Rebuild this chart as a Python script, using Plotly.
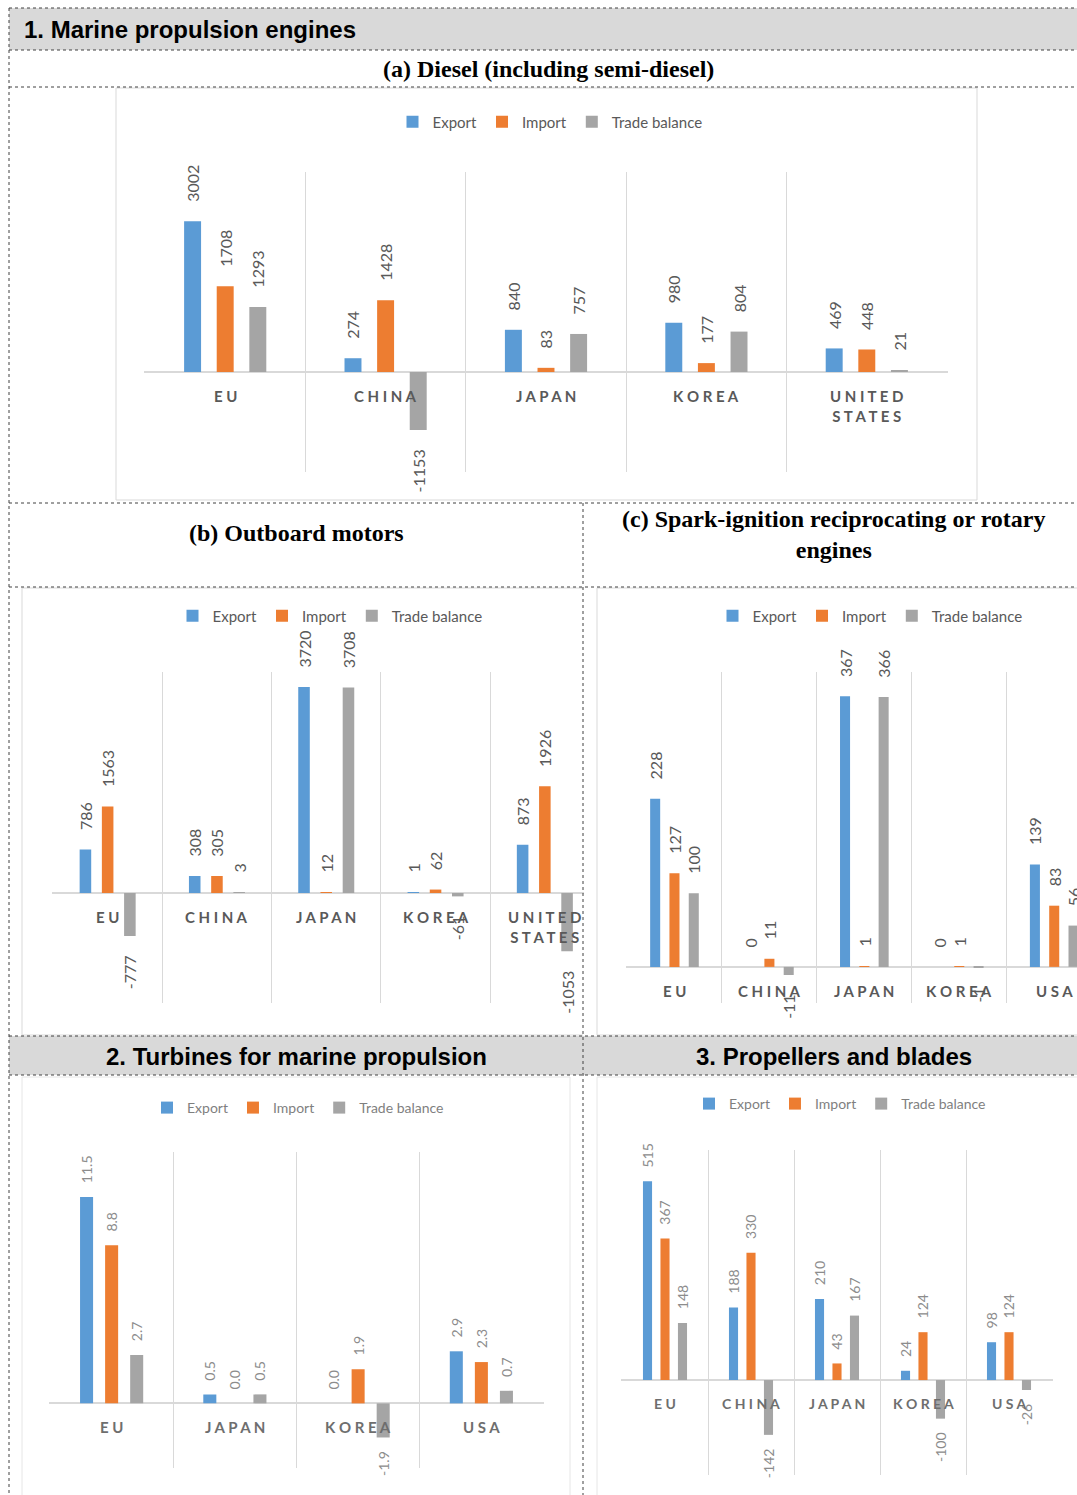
import plotly.graph_objects as go

W, H = 1077, 1495

EXPORT_COLOR = "#5B9BD5"
IMPORT_COLOR = "#ED7D31"
BALANCE_COLOR = "#A5A5A5"
SERIES_NAMES = ["Export", "Import", "Trade balance"]

# (a) Diesel (including semi-diesel)
diesel_cats = ["EU", "CHINA", "JAPAN", "KOREA", "UNITED STATES"]
diesel_export = [3002, 274, 840, 980, 469]
diesel_import = [1708, 1428, 83, 177, 448]
diesel_balance = [1293, -1153, 757, 804, 21]

# (b) Outboard motors
outboard_cats = ["EU", "CHINA", "JAPAN", "KOREA", "UNITED STATES"]
outboard_export = [786, 308, 3720, 1, 873]
outboard_import = [1563, 305, 12, 62, 1926]
outboard_balance = [-777, 3, 3708, -61, -1053]

# (c) Spark-ignition reciprocating or rotary engines
spark_cats = ["EU", "CHINA", "JAPAN", "KOREA", "USA"]
spark_export = [228, 0, 367, 0, 139]
spark_import = [127, 11, 1, 1, 83]
spark_balance = [100, -11, 366, -1, 56]

# 2. Turbines for marine propulsion
turbine_cats = ["EU", "JAPAN", "KOREA", "USA"]
turbine_export = [11.5, 0.5, 0.0, 2.9]
turbine_import = [8.8, 0.0, 1.9, 2.3]
turbine_balance = [2.7, 0.5, -1.9, 0.7]

# 3. Propellers and blades
prop_cats = ["EU", "CHINA", "JAPAN", "KOREA", "USA"]
prop_export = [515, 188, 210, 24, 98]
prop_import = [367, 330, 43, 124, 124]
prop_balance = [148, -142, 167, -100, -26]


def px(x):
    return x / W


def py(y):
    return 1 - y / H


def spaced(label):
    # letter-spaced category caption, one line per word for two-word names
    return "<br>".join(" ".join(word) for word in label.split(" "))


def bar_label(v, decimals, pad):
    s = f"{v:.{decimals}f}"
    gap = "\u00a0" * pad
    return s + gap if v < 0 else gap + s


# panel layout: first category boundary and category width in px, plot top/bottom in px
panels = [
    dict(cats=diesel_cats, series=[diesel_export, diesel_import, diesel_balance],
         left=145, cw=160.4, ncat_visible=5, top=172, bottom=472, yr=[-1990, 3980],
         legend=(550, 122), lfont=15, lcolor="#595959", tfont=16, tcolor="#595959",
         cfont=15, ccolor="#595959", dec=0, pad=4),
    dict(cats=outboard_cats, series=[outboard_export, outboard_import, outboard_balance],
         left=53, cw=109.3, ncat_visible=4.86, top=672, bottom=1003, yr=[-1986, 3990],
         legend=(330, 616), lfont=15, lcolor="#595959", tfont=16, tcolor="#595959",
         cfont=15, ccolor="#595959", dec=0, pad=4),
    dict(cats=spark_cats, series=[spark_export, spark_import, spark_balance],
         left=627, cw=95.0, ncat_visible=4.74, top=672, bottom=1003, yr=[-49, 400],
         legend=(870, 616), lfont=15, lcolor="#595959", tfont=16, tcolor="#595959",
         cfont=15, ccolor="#595959", dec=0, pad=4),
    dict(cats=turbine_cats, series=[turbine_export, turbine_import, turbine_balance],
         left=50, cw=123.25, ncat_visible=4, top=1152, bottom=1468, yr=[-3.6, 14.0],
         legend=(298, 1108), lfont=14, lcolor="#7F7F7F", tfont=14, tcolor="#8C8C8C",
         cfont=15, ccolor="#6E6E6E", dec=1, pad=3),
    dict(cats=prop_cats, series=[prop_export, prop_import, prop_balance],
         left=622, cw=86.0, ncat_visible=5, top=1150, bottom=1475, yr=[-246, 596],
         legend=(840, 1104), lfont=14, lcolor="#7F7F7F", tfont=14, tcolor="#8C8C8C",
         cfont=14, ccolor="#6E6E6E", dec=0, pad=3),
]

fig = go.Figure()
layout = dict(
    width=W, height=H, margin=dict(l=0, r=0, t=0, b=0),
    paper_bgcolor="white", plot_bgcolor="rgba(0,0,0,0)",
    barmode="group", bargap=0.39, bargroupgap=0.48,
    font=dict(family="Lato", color="#595959"),
    showlegend=True,
)
annotations = []
shapes = []

EDGE = 0.006
colors = [EXPORT_COLOR, IMPORT_COLOR, BALANCE_COLOR]

for i, p in enumerate(panels):
    k = "" if i == 0 else str(i + 1)
    xa, ya, lg = f"x{k}", f"y{k}", f"legend{k}"
    lo = -0.5 - EDGE
    hi = -0.5 + p["ncat_visible"] + (EDGE if p["ncat_visible"] == len(p["cats"]) else 0)
    x0 = p["left"] - EDGE * p["cw"]
    x1 = min(W, p["left"] + (hi + 0.5) * p["cw"])
    for name, vals, col in zip(SERIES_NAMES, p["series"], colors):
        fig.add_trace(go.Bar(
            x=p["cats"], y=vals, name=name, marker_color=col, marker_line_width=0,
            xaxis=xa, yaxis=ya, legend=lg,
            text=[bar_label(v, p["dec"], p["pad"]) for v in vals],
            textposition="outside", textangle=-90, constraintext="none",
            cliponaxis=False,
            textfont=dict(family="Lato", size=p["tfont"], color=p["tcolor"]),
            hoverinfo="skip",
        ))
    layout[f"xaxis{k}"] = dict(
        domain=[px(x0), px(x1)], anchor=ya, type="category",
        categoryorder="array", categoryarray=p["cats"],
        range=[lo, hi], tickson="boundaries", showgrid=True,
        gridcolor="#D9D9D9", gridwidth=1, showticklabels=False, ticks="",
        showline=False, zeroline=False, fixedrange=True,
    )
    layout[f"yaxis{k}"] = dict(
        domain=[py(p["bottom"]), py(p["top"])], anchor=xa, range=p["yr"],
        showgrid=False, showticklabels=False, ticks="", showline=False,
        zeroline=True, zerolinecolor="#D9D9D9", zerolinewidth=1.5, fixedrange=True,
    )
    lx, ly = p["legend"]
    layout[f"legend{k}"] = dict(
        orientation="h", x=px(lx), xanchor="center", y=py(ly), yanchor="middle",
        xref="paper", yref="paper", bgcolor="rgba(0,0,0,0)", itemwidth=30,
        font=dict(family="Lato", size=p["lfont"], color=p["lcolor"]),
        itemclick=False, itemdoubleclick=False,
    )
    for c in p["cats"]:
        annotations.append(dict(
            x=c, y=0, xref=xa, yref=ya, yanchor="top", yshift=-13,
            text=f"<b>{spaced(c)}</b>", showarrow=False,
            font=dict(family="Lato", size=p["cfont"], color=p["ccolor"]),
        ))

# table frame: header fills, chart-area borders, dotted cell rules
def rect(x0, y0, x1, y1, **kw):
    return dict(type="rect", xref="paper", yref="paper", x0=px(x0), x1=px(x1),
                y0=py(y1), y1=py(y0), layer="below", **kw)


def line(x0, y0, x1, y1, **kw):
    return dict(type="line", xref="paper", yref="paper", x0=px(x0), x1=px(x1),
                y0=py(y0), y1=py(y1), **kw)


shapes.append(rect(9, 8, 1077, 50, fillcolor="#D9D9D9", line=dict(width=0)))
shapes.append(rect(9, 1036, 1077, 1075, fillcolor="#D9D9D9", line=dict(width=0)))

box_line = dict(color="#D9D9D9", width=1)
shapes.append(rect(116, 88, 977, 500, line=box_line))
shapes.append(line(22, 588, 22, 1035, line=box_line, layer="below"))
shapes.append(line(22, 588, 583, 588, line=box_line, layer="below"))
shapes.append(line(22, 1035, 583, 1035, line=box_line, layer="below"))
shapes.append(line(597, 588, 597, 1035, line=box_line, layer="below"))
shapes.append(line(597, 588, 1077, 588, line=box_line, layer="below"))
shapes.append(line(597, 1035, 1077, 1035, line=box_line, layer="below"))
shapes.append(rect(22, 1077, 570, 1497, line=dict(color="#E6E6E6", width=1)))
shapes.append(rect(597, 1077, 1079, 1497, line=dict(color="#E6E6E6", width=1)))

dot = dict(color="#404040", width=1, dash="dot")
for yy in (8, 50, 87, 503, 587, 1036, 1075):
    shapes.append(line(9, yy, 1077, yy, line=dot, layer="above"))
shapes.append(line(9, 8, 9, 1495, line=dot, layer="above"))
shapes.append(line(583, 503, 583, 1495, line=dot, layer="above"))

# section and panel titles
sans_head = dict(family="Liberation Sans", size=24, color="black")
serif_head = dict(family="Liberation Serif", size=24, color="black")
annotations += [
    dict(x=px(22), y=py(30), xref="paper", yref="paper", xanchor="left", yanchor="middle",
         text="<b>1. Marine propulsion engines</b>", showarrow=False, font=sans_head),
    dict(x=px(548), y=py(69), xref="paper", yref="paper", xanchor="center", yanchor="middle",
         text="<b>(a) Diesel (including semi-diesel)</b>", showarrow=False, font=serif_head),
    dict(x=px(296), y=py(533), xref="paper", yref="paper", xanchor="center", yanchor="middle",
         text="<b>(b) Outboard motors</b>", showarrow=False, font=serif_head),
    dict(x=px(834), y=py(534), xref="paper", yref="paper", xanchor="center", yanchor="middle",
         text="<b>(c) Spark-ignition reciprocating or rotary<br>engines</b>",
         showarrow=False, font=serif_head),
    dict(x=px(296), y=py(1056), xref="paper", yref="paper", xanchor="center", yanchor="middle",
         text="<b>2. Turbines for marine propulsion</b>", showarrow=False, font=sans_head),
    dict(x=px(834), y=py(1056), xref="paper", yref="paper", xanchor="center", yanchor="middle",
         text="<b>3. Propellers and blades</b>", showarrow=False, font=sans_head),
]

layout["annotations"] = annotations
layout["shapes"] = shapes
fig.update_layout(**layout)

fig.write_html("out.html", config={"displayModeBar": False})
